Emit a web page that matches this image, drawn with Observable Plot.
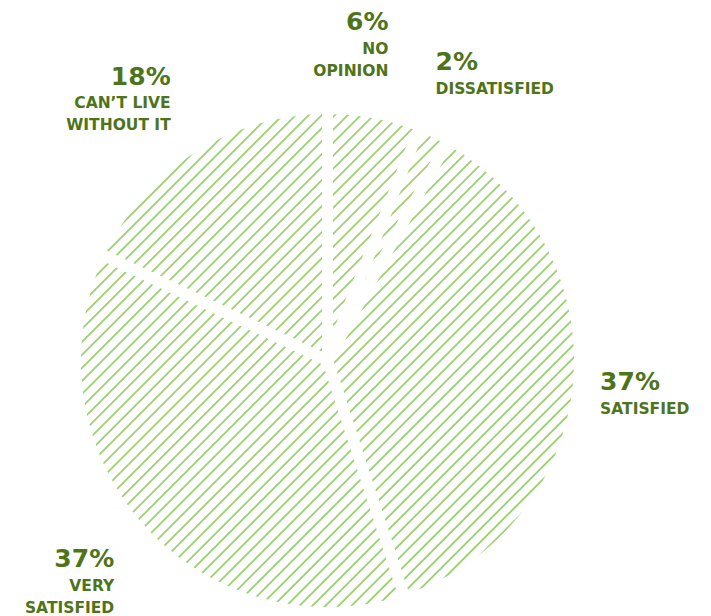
<!DOCTYPE html>
<html><head><meta charset="utf-8">
<script src="https://cdn.jsdelivr.net/npm/d3@7"></script>
<script src="https://cdn.jsdelivr.net/npm/@observablehq/plot@0.6"></script>
<style>body{margin:0;background:#fff;}</style>
</head><body><div id="chart"></div>
<script>
// Data
const categories = ["NO\nOPINION", "DISSATISFIED", "SATISFIED", "VERY\nSATISFIED", "CAN’T LIVE\nWITHOUT IT"];
const shares = [6, 2, 37, 37, 18];
const pctLabels = ["6%", "2%", "37%", "37%", "18%"];

// Annotation layout (anchor side + pixel nudges)
const labelAnchor = ["end", "start", "start", "end", "end"];
const labelDx = [2, -26, -41, 23, 12];
const labelDy = [-21, -5, 0, -2, -10];

const W = 711, H = 616;
const cx = 327, cy = 360, R = 252;
const textColor = "#4e741a";
const hatchColor = "#7dc243";

const total = d3.sum(shares);
let acc = 0;
const slices = shares.map((v, i) => {
  const a0 = acc / total * 2 * Math.PI; acc += v;
  const a1 = acc / total * 2 * Math.PI;
  return {i, cat: categories[i], pct: pctLabels[i], a0, a1, mid: (a0 + a1) / 2};
});
const pts = [];
for (const s of slices) {
  pts.push({k: s.i, x: 0, y: 0});
  const n = Math.max(4, Math.ceil((s.a1 - s.a0) / (Math.PI / 180)));
  for (let j = 0; j <= n; j++) {
    const a = s.a0 + (s.a1 - s.a0) * j / n;
    pts.push({k: s.i, x: Math.sin(a), y: Math.cos(a)});
  }
  pts.push({k: s.i, x: 0, y: 0});
}

const kR = 1.25;
const font = "'DejaVu Sans', sans-serif";
const labelMarks = slices.flatMap((s, i) => [
  Plot.text([s], {x: d => Math.sin(d.mid) * kR, y: d => Math.cos(d.mid) * kR, text: "pct",
    textAnchor: labelAnchor[i], lineAnchor: "bottom", dx: labelDx[i], dy: labelDy[i],
    fontSize: 25, fontWeight: 700, fill: textColor, fontFamily: font}),
  Plot.text([s], {x: d => Math.sin(d.mid) * kR, y: d => Math.cos(d.mid) * kR, text: "cat",
    textAnchor: labelAnchor[i], lineAnchor: "top", lineHeight: 1.43, dx: labelDx[i], dy: labelDy[i] + 8,
    fontSize: 15.5, fontWeight: 700, fill: textColor, fontFamily: font})
]);

const chart = Plot.plot({
  width: W, height: H,
  marginLeft: cx - R, marginRight: W - (cx + R),
  marginTop: cy - R, marginBottom: H - (cy + R),
  x: {domain: [-1, 1], axis: null},
  y: {domain: [-1, 1], axis: null},
  style: {fontFamily: font, background: "white"},
  marks: [
    Plot.line(pts, {x: "x", y: "y", z: "k", fill: "url(#hatch)", stroke: "white",
      strokeWidth: 11, strokeLinejoin: "round", curve: "linear"}),
    ...labelMarks
  ]
});
const defs = document.createElementNS("http://www.w3.org/2000/svg", "defs");
defs.innerHTML = `<pattern id="hatch" patternUnits="userSpaceOnUse" width="9.2" height="9.2" patternTransform="rotate(45)">
  <line x1="4.6" y1="-1" x2="4.6" y2="10.2" stroke="${hatchColor}" stroke-width="1.4"/></pattern>`;
chart.insertBefore(defs, chart.firstChild);
document.getElementById("chart").appendChild(chart);
</script>
</body></html>
